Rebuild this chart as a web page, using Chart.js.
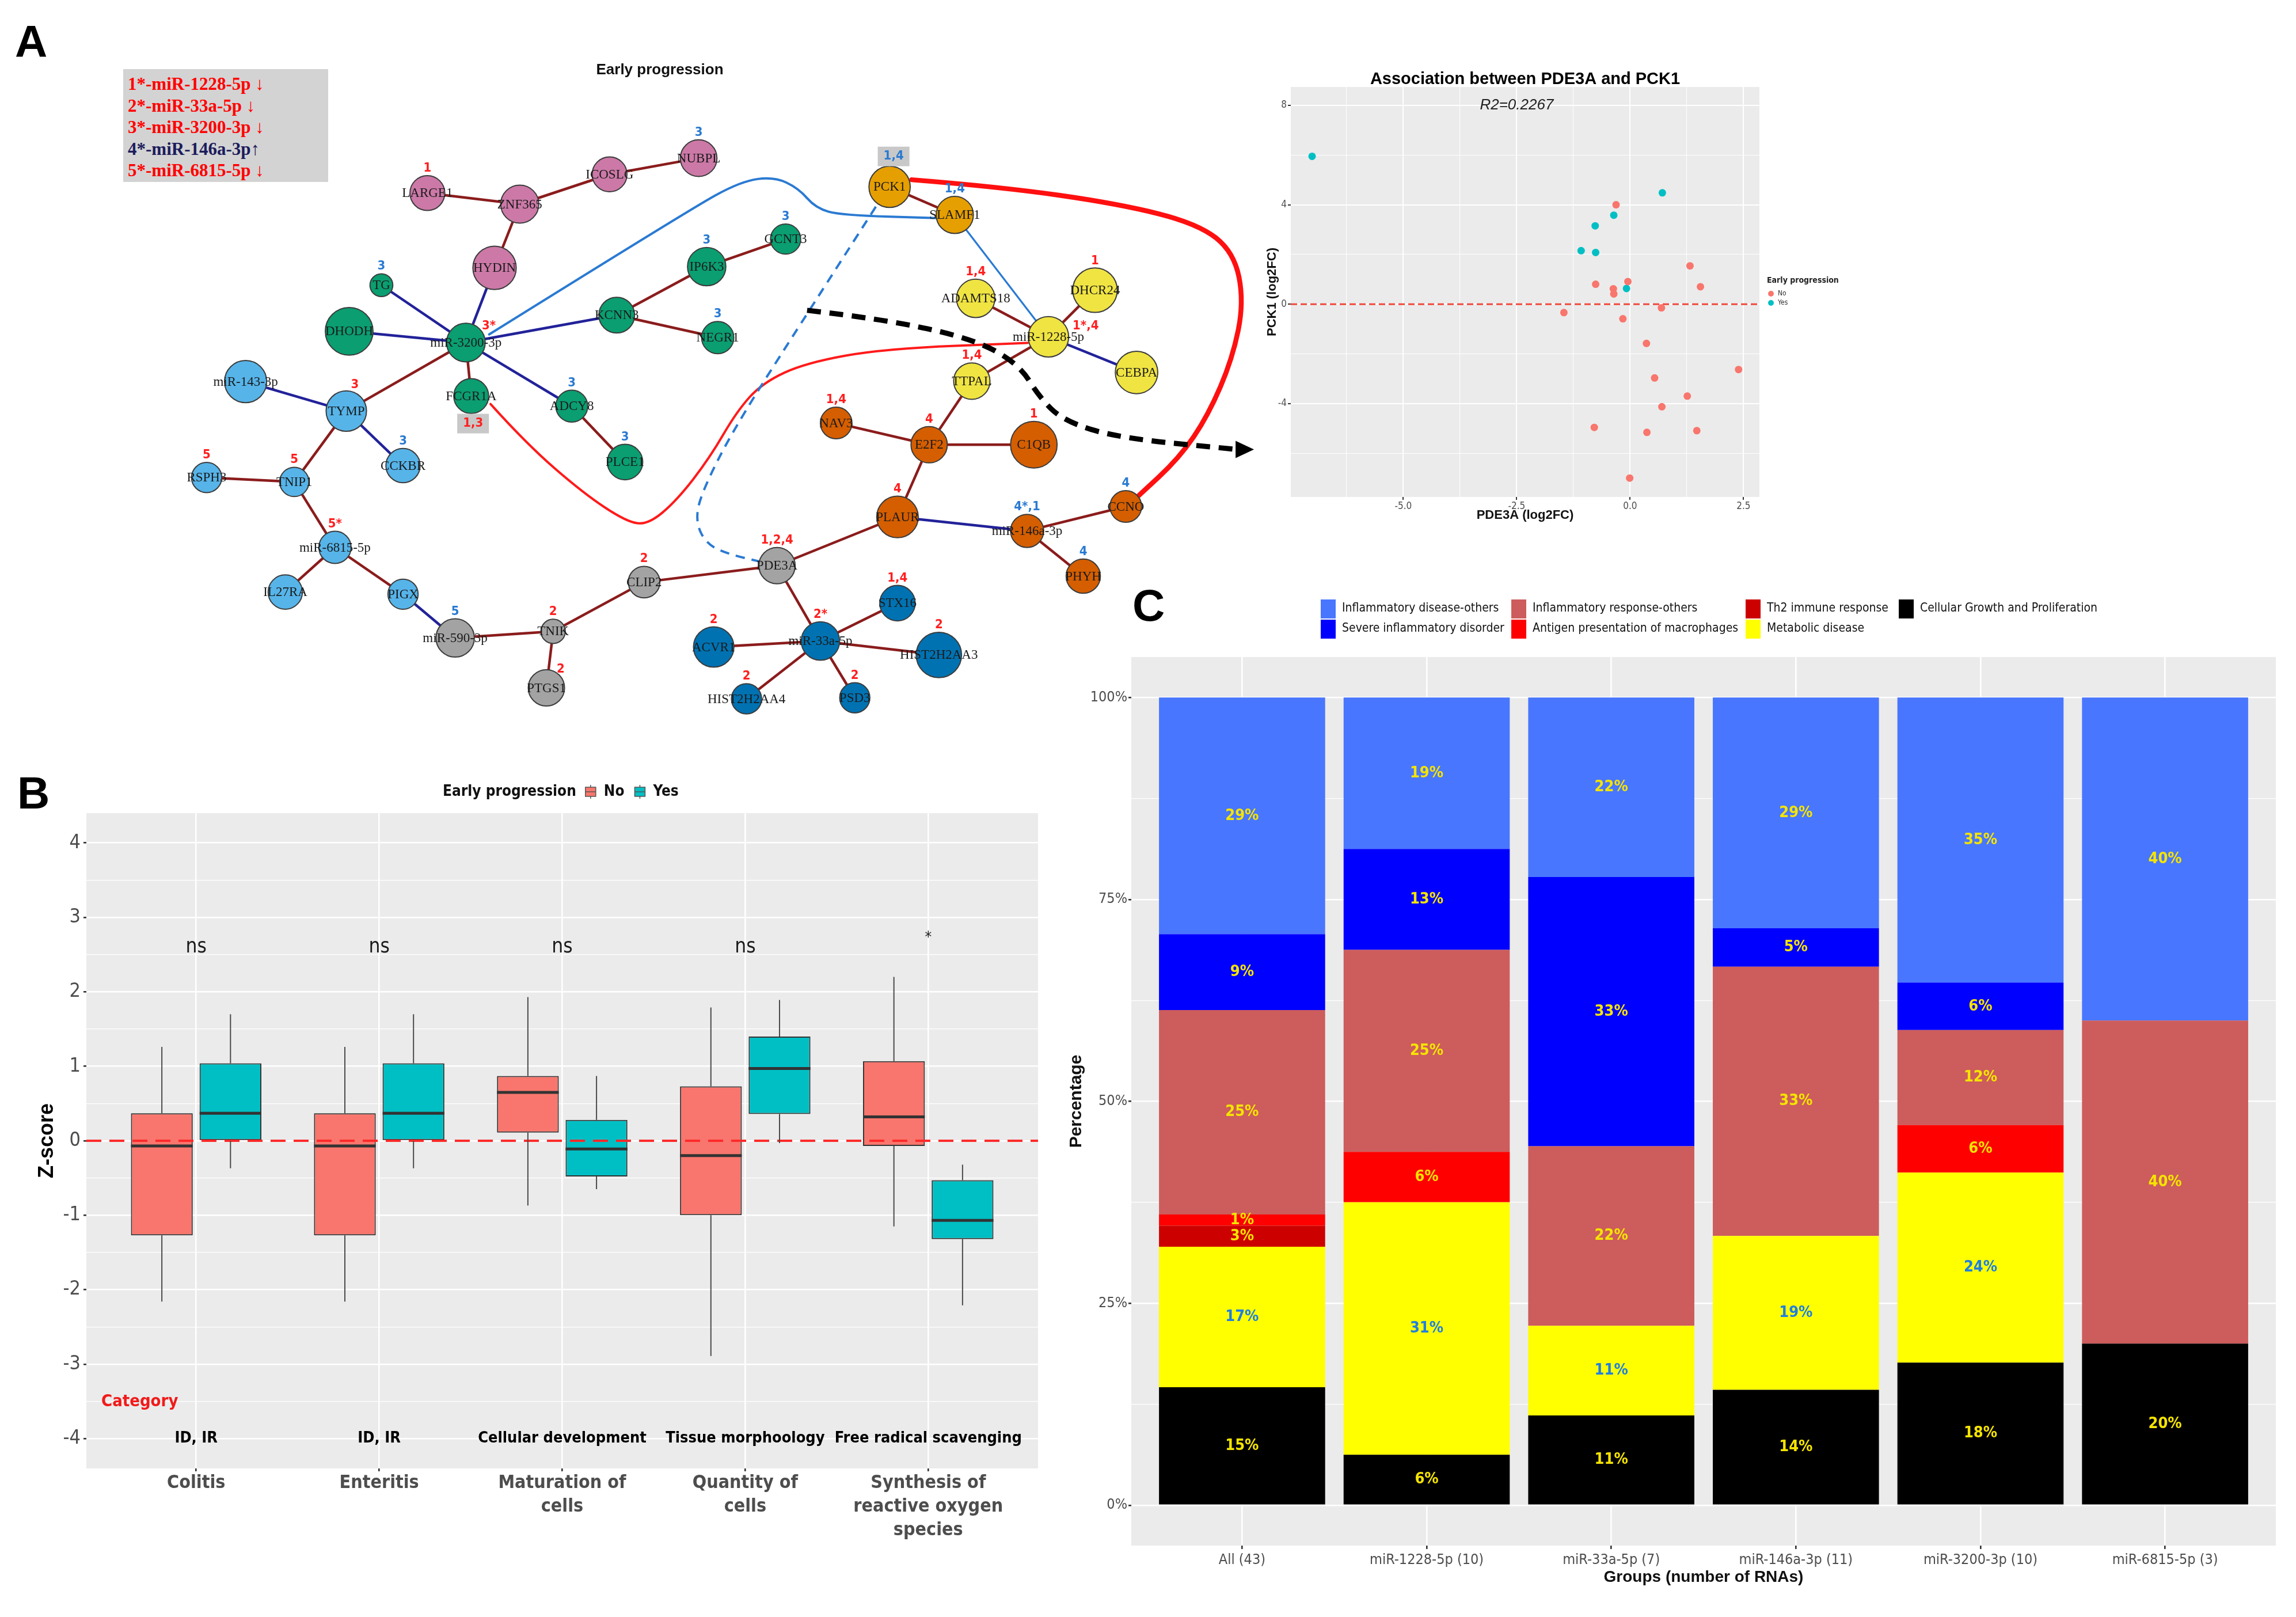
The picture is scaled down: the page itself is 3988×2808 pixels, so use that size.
<!DOCTYPE html>
<html>
<head>
<meta charset="utf-8">
<title>miRNA network, Z-scores and functional groups</title>
<script src="https://cdn.jsdelivr.net/npm/chart.js@4.4.1/dist/chart.umd.min.js"></script>
<style>
  body { margin: 0; width: 3988px; height: 2808px; background: #fff; position: relative; overflow: hidden; }
  canvas { position: absolute; }
  .panel { position: absolute; font: bold 78px 'Liberation Sans', Arial, sans-serif; line-height: 1; color: #000; }
  #mirs { position: absolute; left: 214px; top: 120px; width: 356px; height: 196px; box-sizing: border-box;
          padding: 7px 0 0 8px; background: #d3d3d3; color: #ff0000;
          font: bold 31px/37.5px 'Liberation Serif', 'Times New Roman', serif; white-space: nowrap; }
  #mirs .up { color: #1c1c5c; }
</style>
</head>
<body>
<canvas id="net" width="3988" height="2808" style="left:0;top:0"></canvas>
<canvas id="scatter" width="1100" height="830" style="left:2150px;top:100px"></canvas>
<canvas id="zscore" width="1840" height="1370" style="left:0;top:1340px"></canvas>
<canvas id="groups" width="2157" height="1791" style="left:1831px;top:1017px"></canvas>
<div class="panel" style="left:26px;top:33px">A</div>
<div class="panel" style="left:30px;top:1338px">B</div>
<div class="panel" style="left:1967px;top:1012px">C</div>
<div id="mirs">
  <div>1*-miR-1228-5p ↓</div>
  <div>2*-miR-33a-5p ↓</div>
  <div>3*-miR-3200-3p ↓</div>
  <div class="up">4*-miR-146a-3p↑</div>
  <div>5*-miR-6815-5p ↓</div>
</div>
<script>
// ---------- panel A: network (layout units = 1568 px wide figure) ----------
const nodeNames = ['LARGE1','ZNF365','ICOSLG','NUBPL','HYDIN','TG','DHODH','miR-3200-3p','KCNN3','IP6K3','GCNT3','NEGR1','FCGR1A','ADCY8','PLCE1',
  'miR-143-3p','TYMP','CCKBR','RSPH3','TNIP1','miR-6815-5p','IL27RA','PIGX','miR-590-3p','TNIK','PTGS1','CLIP2','PDE3A','PCK1','SLAMF1',
  'ADAMTS18','DHCR24','miR-1228-5p','CEBPA','TTPAL','NAV3','E2F2','C1QB','PLAUR','miR-146a-3p','CCNO','PHYH','STX16','miR-33a-5p','ACVR1',
  'HIST2H2AA3','HIST2H2AA4','PSD3'];
const nodeX = [280.9,345.4,408.1,470.3,327.8,248.8,226.3,307.8,413.1,475.9,531,483.6,311.5,381.7,418.9,
  154,224.3,263.9,126.8,188,216.4,181.7,263.9,300.3,368.7,364,432.2,525,603.6,649.1,
  663.7,747,714.5,776,661,566.3,631.2,704.3,609.1,699.6,768.5,738.8,609.1,555.3,480.8,
  638,503.7,579.3];
const nodeY = [118.4,126.2,105.2,93.8,171.1,183.3,215.8,223.7,204.4,170.2,150.8,220.2,261.4,268.5,307.9,
  251.2,272,310.4,318.8,321.9,368,399.5,401,431.8,427.2,467,392.5,380.9,114,133.8,
  192.6,186.8,219.7,244.8,250.9,280.4,295.7,295.7,346.6,356.4,339.2,388.3,407.3,434,438.2,
  443.8,474.7,474];
const nodeSize = [11.9,13,11.9,12.5,14.8,7.8,16.3,13.2,12.2,13.1,10.3,11,11.9,10.9,12.1,
  14.4,13.8,11.7,10.3,10,11,11.7,10.3,13.1,8.3,12.4,10.8,12.4,14.1,12.7,
  13.1,15.2,13.8,14.5,12.4,10.8,12.4,15.9,14.2,11.3,10.8,11.7,12.1,13.1,13.8,
  15.5,10.3,10.3];
const nodeGroup = ['pink','pink','pink','pink','pink','green','green','green','green','green','green','green','green','green','green',
  'sky','sky','sky','sky','sky','sky','sky','sky','grey','grey','grey','grey','grey','amber','amber',
  'yellow','yellow','yellow','yellow','yellow','orange','orange','orange','orange','orange','orange','orange','navy','navy','navy',
  'navy','navy','navy'];
const nodeTag = ['1','','','3','','3','','3*','','3','3','3','1,3','3','3',
  '','3','3','5','5','5*','','','5','2','2','2','1,2,4','1,4','1,4',
  '1,4','1','1*,4','','1,4','1,4','4','1','4','4*,1','4','4','1,4','2*','2',
  '2','2','2'];
const nodeTagBlue = [0,0,0,1,0,1,0,0,0,1,1,1,0,1,1,
  0,0,1,0,0,0,0,0,1,0,0,0,0,1,1,
  0,0,0,0,0,0,0,0,0,1,1,1,0,0,0,
  0,0,0];
const boxedTags = ['FCGR1A', 'PCK1'];
const tagOffset = { 'miR-3200-3p': [16, -11.5], 'miR-1228-5p': [26, -7.5], 'PTGS1': [10, -13], 'TYMP': [6, -18.5],
  'FCGR1A': [1.3, 19.4], 'PCK1': [2.8, -21.4] };

// edges: [from, to, kind]  r = dark red, b = dark blue, l = light blue
const edgeList = [
  ['LARGE1','ZNF365','r'],['ZNF365','ICOSLG','r'],['ICOSLG','NUBPL','r'],['ZNF365','HYDIN','r'],
  ['HYDIN','miR-3200-3p','b'],['TG','miR-3200-3p','b'],['DHODH','miR-3200-3p','b'],['KCNN3','miR-3200-3p','b'],['ADCY8','miR-3200-3p','b'],
  ['FCGR1A','miR-3200-3p','r'],['TYMP','miR-3200-3p','r'],['KCNN3','IP6K3','r'],['IP6K3','GCNT3','r'],['KCNN3','NEGR1','r'],['ADCY8','PLCE1','r'],
  ['miR-143-3p','TYMP','b'],['TYMP','CCKBR','b'],['TYMP','TNIP1','r'],['RSPH3','TNIP1','r'],['TNIP1','miR-6815-5p','r'],
  ['miR-6815-5p','IL27RA','r'],['miR-6815-5p','PIGX','r'],['PIGX','miR-590-3p','b'],['miR-590-3p','TNIK','r'],['TNIK','PTGS1','r'],
  ['TNIK','CLIP2','r'],['CLIP2','PDE3A','r'],['PDE3A','PLAUR','r'],['PDE3A','miR-33a-5p','r'],['PCK1','SLAMF1','r'],
  ['SLAMF1','miR-1228-5p','l'],['ADAMTS18','miR-1228-5p','r'],['DHCR24','miR-1228-5p','r'],['CEBPA','miR-1228-5p','b'],['TTPAL','miR-1228-5p','r'],
  ['TTPAL','E2F2','r'],['NAV3','E2F2','r'],['E2F2','C1QB','r'],['E2F2','PLAUR','r'],['PLAUR','miR-146a-3p','b'],
  ['miR-146a-3p','CCNO','r'],['miR-146a-3p','PHYH','r'],['miR-33a-5p','STX16','r'],['miR-33a-5p','ACVR1','r'],
  ['miR-33a-5p','HIST2H2AA3','r'],['miR-33a-5p','HIST2H2AA4','r'],['miR-33a-5p','PSD3','r']
];

// curved links (way points in layout units)
const blueArc = [[324,218],[464,130],[500,110],[523,107],[540,115],[552,129],[570,134],[637,136]];
const blueDash = [[594,128],[545,205],[495,284],[472,330],[468,350],[476,366],[492,373],[513,378]];
const redThin = [[325,267],[350,295],[390,330],[420,350],[435,352],[455,335],[478,305],[497,272],[515,252],[545,238],[600,228],[700,224]];
const redThick = [[619,109],[681,114],[764,126],[819,140],[844,160],[851,195],[843,235],[826,275],[806,305],[776,333]];
const blackArrow = [[546,201],[598,207],[662,221],[694,239],[708,262],[725,279],[764,291],[846,299],[858,299]];

const groupColors = { pink:'#cc79a7', green:'#0a9e70', sky:'#56b4e9', grey:'#a3a3a3', amber:'#e69f00', yellow:'#f0e442', orange:'#d55e00', navy:'#0072b2' };
const edgeColor = { r:'#8b1c1c', b:'#22229a', l:'#2a7ad2' };
const S = 3988 / 1568;
const NARROW = "'DejaVu Sans Condensed', 'Liberation Sans', sans-serif";
const SANS = "'Liberation Sans', Arial, sans-serif";

const nodeIdx = {};
nodeNames.forEach((n, i) => { nodeIdx[n] = i; });

function smoothPath(ctx, pts) {
  ctx.beginPath();
  ctx.moveTo(pts[0][0], pts[0][1]);
  for (let i = 1; i < pts.length - 1; i++) {
    const mx = (pts[i][0] + pts[i + 1][0]) / 2, my = (pts[i][1] + pts[i + 1][1]) / 2;
    ctx.quadraticCurveTo(pts[i][0], pts[i][1], mx, my);
  }
  const last = pts[pts.length - 1];
  ctx.lineTo(last[0], last[1]);
  ctx.stroke();
}

const netPlugin = {
  id: 'netPlugin',
  beforeDatasetsDraw(chart) {
    const { ctx, scales: { x, y } } = chart;
    const px = p => [x.getPixelForValue(p[0]), y.getPixelForValue(p[1])];
    const at = n => px([nodeX[nodeIdx[n]], nodeY[nodeIdx[n]]]);
    ctx.save();
    ctx.lineCap = 'round';
    edgeList.forEach(([a, b, kind]) => {
      const p = at(a), q = at(b);
      ctx.strokeStyle = edgeColor[kind];
      ctx.lineWidth = kind === 'l' ? 3.2 : 4.5;
      ctx.beginPath(); ctx.moveTo(p[0], p[1]); ctx.lineTo(q[0], q[1]); ctx.stroke();
    });
    const curves = [
      { pts: blueArc, color: '#2a7ad2', width: 4, dash: [] },
      { pts: redThin, color: '#ff1a1a', width: 4, dash: [] },
      { pts: redThick, color: '#ff1010', width: 8.5, dash: [] },
      { pts: blueDash, color: '#2a7ad2', width: 4, dash: [16, 12] },
      { pts: blackArrow.slice(0, -1), color: '#000', width: 9, dash: [24, 15] }
    ];
    curves.forEach(c => {
      ctx.strokeStyle = c.color; ctx.lineWidth = c.width; ctx.setLineDash(c.dash);
      ctx.lineCap = c.dash.length ? 'butt' : 'round';
      smoothPath(ctx, c.pts.map(px));
    });
    ctx.setLineDash([]);
    // arrow head
    const tip = px(blackArrow[blackArrow.length - 1]), base = px(blackArrow[blackArrow.length - 2]);
    const ang = Math.atan2(tip[1] - base[1], tip[0] - base[0]);
    ctx.fillStyle = '#000';
    ctx.beginPath();
    ctx.moveTo(tip[0], tip[1]);
    ctx.lineTo(tip[0] - 32 * Math.cos(ang) + 15 * Math.sin(ang), tip[1] - 32 * Math.sin(ang) - 15 * Math.cos(ang));
    ctx.lineTo(tip[0] - 32 * Math.cos(ang) - 15 * Math.sin(ang), tip[1] - 32 * Math.sin(ang) + 15 * Math.cos(ang));
    ctx.closePath(); ctx.fill();
    ctx.restore();
  },
  afterDatasetsDraw(chart) {
    const { ctx, scales: { x, y } } = chart;
    ctx.save();
    ctx.textAlign = 'center'; ctx.textBaseline = 'middle';
    ctx.font = "bold 26px " + SANS;
    ctx.fillStyle = '#111';
    ctx.fillText('Early progression', 1146, 122);
    nodeNames.forEach((n, i) => {
      const cx = x.getPixelForValue(nodeX[i]), cy = y.getPixelForValue(nodeY[i]);
      ctx.font = "23px 'Liberation Serif', 'DejaVu Serif', serif";
      ctx.fillStyle = '#1a1a1a';
      ctx.fillText(n, cx, cy + 1);
      if (!nodeTag[i]) return;
      const off = tagOffset[n] || [0, -(nodeSize[i] + 5.5)];
      const tx = x.getPixelForValue(nodeX[i] + off[0]), ty = y.getPixelForValue(nodeY[i] + off[1]);
      ctx.font = "bold 22px " + NARROW;
      if (boxedTags.includes(n)) {
        const w = ctx.measureText(nodeTag[i]).width + 20;
        ctx.fillStyle = '#c8c8c8';
        ctx.fillRect(tx - w / 2, ty - 17, w, 34);
      }
      ctx.fillStyle = nodeTagBlue[i] ? '#2a7ad2' : '#ff1f1f';
      ctx.fillText(nodeTag[i], tx, ty);
    });
    ctx.restore();
  }
};

new Chart(document.getElementById('net'), {
  type: 'scatter',
  data: {
    datasets: [{
      data: nodeNames.map((n, i) => ({ x: nodeX[i], y: nodeY[i] })),
      pointRadius: c => nodeSize[c.dataIndex] * S,
      pointBackgroundColor: c => groupColors[nodeGroup[c.dataIndex]],
      pointBorderColor: '#3c3c3c',
      pointBorderWidth: 2
    }]
  },
  options: {
    responsive: false, devicePixelRatio: 1, animation: false, events: [],
    layout: { padding: 0 },
    plugins: { legend: { display: false }, tooltip: { enabled: false } },
    scales: {
      x: { type: 'linear', display: false, min: 0, max: 1568 },
      y: { type: 'linear', display: false, min: 0, max: 1104, reverse: true }
    }
  },
  plugins: [netPlugin]
});

// ---------- panel A right: PDE3A vs PCK1 ----------
const pdeNo = [-0.31, 1.32, 1.55, -0.05, -0.76, -0.37, -0.36, 0.69, -1.46, -0.16, 0.36, 2.39, 0.54, 1.26, 0.70, -0.79, 0.37, 1.47, -0.01];
const pckNo = [4.0, 1.54, 0.70, 0.91, 0.80, 0.62, 0.41, -0.15, -0.34, -0.59, -1.58, -2.63, -2.97, -3.70, -4.13, -4.96, -5.16, -5.09, -7.0];
const pdeYes = [-7.01, 0.71, -0.36, -0.77, -1.08, -0.76, -0.08];
const pckYes = [5.95, 4.48, 3.58, 3.15, 2.15, 2.08, 0.63];
const pdeTicks = [-6.25, -5, -3.75, -2.5, -1.25, 0, 1.25, 2.5];
const pckTicks = [-6, -4, -2, 0, 2, 4, 6, 8];
const pdeRange = [-7.48, 2.85];
const pckRange = [-7.76, 8.74];

const panelBg = {
  id: 'panelBg',
  beforeDraw(chart) {
    const { ctx, chartArea: a } = chart;
    ctx.save(); ctx.fillStyle = '#ebebeb';
    ctx.fillRect(a.left, a.top, a.right - a.left, a.bottom - a.top);
    ctx.restore();
  }
};

function ggGrid(isMajor, major, minor) {
  return {
    color: '#ffffff',
    lineWidth: c => (isMajor(c.tick.value) ? major : minor),
    drawTicks: true, tickLength: 5,
    tickColor: c => (isMajor(c.tick.value) ? '#333333' : 'rgba(0,0,0,0)'),
    offset: false
  };
}

const scatterText = {
  id: 'scatterText',
  afterDraw(chart) {
    const { ctx, chartArea: a, scales: { x, y } } = chart;
    ctx.save();
    ctx.textAlign = 'center'; ctx.textBaseline = 'middle'; ctx.fillStyle = '#000';
    ctx.font = "bold 29px " + SANS;
    ctx.fillText('Association between PDE3A and PCK1', (a.left + a.right) / 2, 38);
    ctx.font = "italic 26px " + SANS; ctx.fillStyle = '#222';
    ctx.fillText('R2=0.2267', x.getPixelForValue(-2.5), y.getPixelForValue(8));
    ctx.textAlign = 'left';
    ctx.font = "bold 14px " + NARROW; ctx.fillStyle = '#222';
    ctx.fillText('Early progression', 919, 387);
    ctx.font = "12px " + NARROW;
    [['No', '#F8766D'], ['Yes', '#00BFC4']].forEach(([t, col], k) => {
      ctx.fillStyle = col;
      ctx.beginPath(); ctx.arc(926, 410 + k * 16, 5, 0, Math.PI * 2); ctx.fill();
      ctx.fillStyle = '#333';
      ctx.fillText(t, 938, 410 + k * 16);
    });
    ctx.restore();
  }
};

new Chart(document.getElementById('scatter'), {
  type: 'scatter',
  data: {
    datasets: [
      { label: 'No', data: pdeNo.map((v, i) => ({ x: v, y: pckNo[i] })), pointRadius: 6.5, pointBackgroundColor: '#F8766D', pointBorderWidth: 0 },
      { label: 'Yes', data: pdeYes.map((v, i) => ({ x: v, y: pckYes[i] })), pointRadius: 6.5, pointBackgroundColor: '#00BFC4', pointBorderWidth: 0 },
      { type: 'line', label: 'zero', data: [{ x: pdeRange[0], y: 0 }, { x: pdeRange[1], y: 0 }], borderColor: '#f04a3e', borderWidth: 3, borderDash: [11, 6], pointRadius: 0 }
    ]
  },
  options: {
    responsive: false, devicePixelRatio: 1, animation: false, events: [],
    layout: { padding: { top: 51, right: 194, left: 0, bottom: 0 } },
    plugins: { legend: { display: false }, tooltip: { enabled: false } },
    scales: {
      x: {
        type: 'linear', min: pdeRange[0], max: pdeRange[1],
        afterBuildTicks: s => { s.ticks = pdeTicks.map(value => ({ value })); },
        afterFit: s => { s.height = 67; },
        ticks: { callback: v => (v % 2.5 === 0 ? v.toFixed(1) : ''), color: '#4d4d4d', font: { family: NARROW, size: 17 }, padding: 1, autoSkip: false, maxRotation: 0 },
        grid: ggGrid(v => v % 2.5 === 0, 2, 1),
        border: { display: false },
        title: { display: true, text: 'PDE3A (log2FC)', color: '#111', font: { family: SANS, size: 22, weight: 'bold' }, padding: { top: 0, bottom: 22 } }
      },
      y: {
        type: 'linear', min: pckRange[0], max: pckRange[1],
        afterBuildTicks: s => { s.ticks = pckTicks.map(value => ({ value })); },
        afterFit: s => { s.width = 92; },
        ticks: { callback: v => (v % 4 === 0 ? String(v) : ''), color: '#4d4d4d', font: { family: NARROW, size: 17 }, padding: 2, autoSkip: false },
        grid: ggGrid(v => v % 4 === 0, 2, 1),
        border: { display: false },
        title: { display: true, text: 'PCK1 (log2FC)', color: '#111', font: { family: SANS, size: 22, weight: 'bold' }, padding: { top: 47, bottom: 0 } }
      }
    }
  },
  plugins: [panelBg, scatterText]
});

// ---------- panel B: Z-score boxplots ----------
const bCategories = [['Colitis'], ['Enteritis'], ['Maturation of', 'cells'], ['Quantity of', 'cells'], ['Synthesis of', 'reactive oxygen', 'species']];
const bCategoryGroup = ['ID, IR', 'ID, IR', 'Cellular development', 'Tissue morphoology', 'Free radical scavenging'];
const bSignif = ['ns', 'ns', 'ns', 'ns', '*'];
const noMin = [-2.16, -2.16, -0.87, -2.89, -1.15];
const noQ1 = [-1.27, -1.27, 0.11, -1.0, -0.07];
const noMed = [-0.07, -0.07, 0.65, -0.2, 0.32];
const noQ3 = [0.37, 0.37, 0.87, 0.73, 1.07];
const noMax = [1.26, 1.26, 1.93, 1.79, 2.2];
const yesMin = [-0.37, -0.37, -0.65, -0.03, -2.21];
const yesQ1 = [0, 0, -0.48, 0.36, -1.32];
const yesMed = [0.37, 0.37, -0.11, 0.97, -1.07];
const yesQ3 = [1.04, 1.04, 0.28, 1.40, -0.53];
const yesMax = [1.70, 1.70, 0.87, 1.89, -0.32];
const zTicks = [-4, -3.5, -3, -2.5, -2, -1.5, -1, -0.5, 0, 0.5, 1, 1.5, 2, 2.5, 3, 3.5, 4];

const boxPlugin = {
  id: 'boxPlugin',
  afterDatasetsDraw(chart) {
    const { ctx, chartArea: a, scales: { x, y } } = chart;
    ctx.save();
    // zero line
    ctx.strokeStyle = '#ff2a2a'; ctx.lineWidth = 4; ctx.setLineDash([26, 14]);
    ctx.beginPath(); ctx.moveTo(a.left, y.getPixelForValue(0)); ctx.lineTo(a.right, y.getPixelForValue(0)); ctx.stroke();
    ctx.setLineDash([]);
    [[noMin, noQ1, noMed, noQ3, noMax], [yesMin, yesQ1, yesMed, yesQ3, yesMax]].forEach((st, di) => {
      chart.getDatasetMeta(di).data.forEach((bar, i) => {
        const bx = bar.x, hw = bar.width / 2;
        ctx.strokeStyle = '#4a4a4a'; ctx.lineWidth = 2;
        ctx.beginPath();
        ctx.moveTo(bx, y.getPixelForValue(st[3][i])); ctx.lineTo(bx, y.getPixelForValue(st[4][i]));
        ctx.moveTo(bx, y.getPixelForValue(st[1][i])); ctx.lineTo(bx, y.getPixelForValue(st[0][i]));
        ctx.stroke();
        ctx.strokeStyle = '#333'; ctx.lineWidth = 5;
        ctx.beginPath(); ctx.moveTo(bx - hw, y.getPixelForValue(st[2][i])); ctx.lineTo(bx + hw, y.getPixelForValue(st[2][i])); ctx.stroke();
      });
    });
    ctx.textAlign = 'center'; ctx.textBaseline = 'middle';
    bSignif.forEach((t, i) => {
      ctx.fillStyle = '#1a1a1a';
      ctx.font = (t === '*' ? "26px " : "35px ") + NARROW;
      ctx.fillText(t, x.getPixelForValue(i), y.getPixelForValue(t === '*' ? 2.72 : 2.6));
      ctx.font = "bold 27px " + NARROW; ctx.fillStyle = '#000';
      ctx.fillText(bCategoryGroup[i], x.getPixelForValue(i), y.getPixelForValue(-4));
    });
    ctx.textAlign = 'left'; ctx.fillStyle = '#f21a1a'; ctx.font = "bold 29px " + NARROW;
    ctx.fillText('Category', 176, y.getPixelForValue(-3.51));
    // legend on top
    let lx = 769; const ly = 35;
    ctx.fillStyle = '#111'; ctx.font = "bold 26px " + NARROW;
    ctx.fillText('Early progression', lx, ly);
    lx += ctx.measureText('Early progression').width + 16;
    [['No', '#F8766D'], ['Yes', '#00BFC4']].forEach(([t, col]) => {
      ctx.fillStyle = col; ctx.fillRect(lx, ly - 8, 18, 16);
      ctx.strokeStyle = '#555'; ctx.lineWidth = 1.5; ctx.strokeRect(lx, ly - 8, 18, 16);
      ctx.beginPath(); ctx.moveTo(lx, ly); ctx.lineTo(lx + 18, ly);
      ctx.moveTo(lx + 9, ly - 12); ctx.lineTo(lx + 9, ly - 8); ctx.moveTo(lx + 9, ly + 8); ctx.lineTo(lx + 9, ly + 12); ctx.stroke();
      lx += 32;
      ctx.fillStyle = '#111'; ctx.font = "bold 26px " + NARROW;
      ctx.fillText(t, lx, ly);
      lx += ctx.measureText(t).width + 18;
    });
    ctx.restore();
  }
};

new Chart(document.getElementById('zscore'), {
  type: 'bar',
  data: {
    datasets: [
      { label: 'No', data: noQ1.map((q, i) => ({ x: i, y: [q, noQ3[i]] })), backgroundColor: '#F8766D', borderColor: '#333', borderWidth: 2, borderSkipped: false },
      { label: 'Yes', data: yesQ1.map((q, i) => ({ x: i, y: [q, yesQ3[i]] })), backgroundColor: '#00BFC4', borderColor: '#333', borderWidth: 2, borderSkipped: false }
    ]
  },
  options: {
    responsive: false, devicePixelRatio: 1, animation: false, events: [],
    layout: { padding: { top: 72, right: 37, left: 0, bottom: 0 } },
    datasets: { bar: { categoryPercentage: 0.75, barPercentage: 0.9 } },
    plugins: { legend: { display: false }, tooltip: { enabled: false } },
    scales: {
      x: {
        type: 'linear', min: -0.6, max: 4.6, offset: false,
        afterBuildTicks: s => { s.ticks = bCategories.map((c, i) => ({ value: i })); },
        afterFit: s => { s.height = 160; },
        ticks: { callback: v => bCategories[v], color: '#4d4d4d', font: { family: NARROW, size: 32, weight: 'bold', lineHeight: 1.28 }, padding: 0, autoSkip: false, maxRotation: 0 },
        grid: { color: '#fff', lineWidth: 2.6, tickLength: 5, tickColor: '#333', offset: false },
        border: { display: false }
      },
      y: {
        type: 'linear', min: -4.4, max: 4.4,
        afterBuildTicks: s => { s.ticks = zTicks.map(value => ({ value })); },
        afterFit: s => { s.width = 150; },
        ticks: { callback: v => (Number.isInteger(v) ? String(v) : ''), color: '#4d4d4d', font: { family: NARROW, size: 34 }, padding: 5, autoSkip: false },
        grid: ggGrid(v => Number.isInteger(v), 2.6, 1.3),
        border: { display: false },
        title: { display: true, text: 'Z-score', color: '#000', font: { family: SANS, size: 36, weight: 'bold' }, padding: { top: 60, bottom: 0 } }
      }
    }
  },
  plugins: [panelBg, boxPlugin]
});

// ---------- panel C: functional groups per miRNA ----------
const cGroups = ['All (43)', 'miR-1228-5p (10)', 'miR-33a-5p (7)', 'miR-146a-3p (11)', 'miR-3200-3p (10)', 'miR-6815-5p (3)'];
const cFunctions = ['Inflammatory disease-others', 'Severe inflammatory disorder', 'Inflammatory response-others',
  'Antigen presentation of macrophages', 'Th2 immune response', 'Metabolic disease', 'Cellular Growth and Proliferation'];
const inflDisease = [29.3, 18.75, 22.22, 28.57, 35.29, 40];
const severeInfl = [9.4, 12.5, 33.33, 4.76, 5.88, 0];
const inflResponse = [25.3, 25, 22.22, 33.33, 11.76, 40];
const antigenPres = [1.4, 6.25, 0, 0, 5.88, 0];
const th2Response = [2.6, 0, 0, 0, 0, 0];
const metabolic = [17.4, 31.25, 11.11, 19.05, 23.53, 0];
const cellGrowth = [14.6, 6.25, 11.11, 14.29, 17.65, 20];
const pctTicks = [0, 12.5, 25, 37.5, 50, 62.5, 75, 87.5, 100];

const cSeries = [inflDisease, severeInfl, inflResponse, antigenPres, th2Response, metabolic, cellGrowth];
const cColors = ['#4876ff', '#0000ff', '#cd5c5c', '#ff0000', '#cd0000', '#ffff00', '#000000'];

const stackLabels = {
  id: 'stackLabels',
  afterDatasetsDraw(chart) {
    const { ctx } = chart;
    ctx.save();
    ctx.textAlign = 'center'; ctx.textBaseline = 'middle';
    ctx.font = "bold 27px " + NARROW;
    chart.data.datasets.forEach((ds, di) => {
      chart.getDatasetMeta(di).data.forEach((bar, i) => {
        const v = ds.data[i].y;
        if (!v) return;
        ctx.fillStyle = ds.label === 'Metabolic disease' ? '#1f7fe0' : '#f5e400';
        ctx.fillText(Math.round(v) + '%', bar.x, (bar.y + bar.base) / 2);
      });
    });
    // legend, two rows
    const cols = [463, 794, 1201, 1467], rows = [40, 75];
    const place = [[0, 0], [0, 1], [1, 0], [1, 1], [2, 0], [2, 1], [3, 0]];
    ctx.textAlign = 'left'; ctx.font = "21px " + NARROW;
    cFunctions.forEach((f, k) => {
      const [c, r] = place[k];
      ctx.fillStyle = cColors[k];
      ctx.fillRect(cols[c], rows[r] - 16, 26, 33);
      ctx.fillStyle = '#111';
      ctx.fillText(f, cols[c] + 37, rows[r]);
    });
    ctx.restore();
  }
};

new Chart(document.getElementById('groups'), {
  type: 'bar',
  data: {
    // ggplot stacks the first level on top, so the bottom series goes first here
    datasets: cSeries.map((vals, k) => ({
      label: cFunctions[k],
      data: vals.map((v, i) => ({ x: i, y: v })),
      backgroundColor: cColors[k],
      borderWidth: 0
    })).reverse()
  },
  options: {
    responsive: false, devicePixelRatio: 1, animation: false, events: [],
    layout: { padding: { top: 124, right: 35, left: 0, bottom: 0 } },
    datasets: { bar: { categoryPercentage: 1, barPercentage: 0.9 } },
    plugins: { legend: { display: false }, tooltip: { enabled: false } },
    scales: {
      x: {
        type: 'linear', min: -0.6, max: 5.6, offset: false, stacked: true,
        afterBuildTicks: s => { s.ticks = cGroups.map((g, i) => ({ value: i })); },
        afterFit: s => { s.height = 124; },
        ticks: { callback: v => cGroups[v], color: '#4d4d4d', font: { family: NARROW, size: 25 }, padding: 4, autoSkip: false, maxRotation: 0 },
        grid: { color: '#fff', lineWidth: 2.6, tickLength: 6, tickColor: '#333', offset: false },
        border: { display: false },
        title: { display: true, text: 'Groups (number of RNAs)', color: '#111', font: { family: SANS, size: 28, weight: 'bold' }, padding: { top: 0, bottom: 52 } }
      },
      y: {
        type: 'linear', min: -5, max: 105, stacked: true,
        afterBuildTicks: s => { s.ticks = pctTicks.map(value => ({ value })); },
        afterFit: s => { s.width = 134; },
        ticks: { callback: v => (v % 25 === 0 ? v + '%' : ''), color: '#4d4d4d', font: { family: NARROW, size: 25 }, padding: 2, autoSkip: false },
        grid: ggGrid(v => v % 25 === 0, 2.6, 1.3),
        border: { display: false },
        title: { display: true, text: 'Percentage', color: '#111', font: { family: SANS, size: 30, weight: 'bold' }, padding: { top: 21, bottom: 0 } }
      }
    }
  },
  plugins: [panelBg, stackLabels]
});
</script>
</body>
</html>
